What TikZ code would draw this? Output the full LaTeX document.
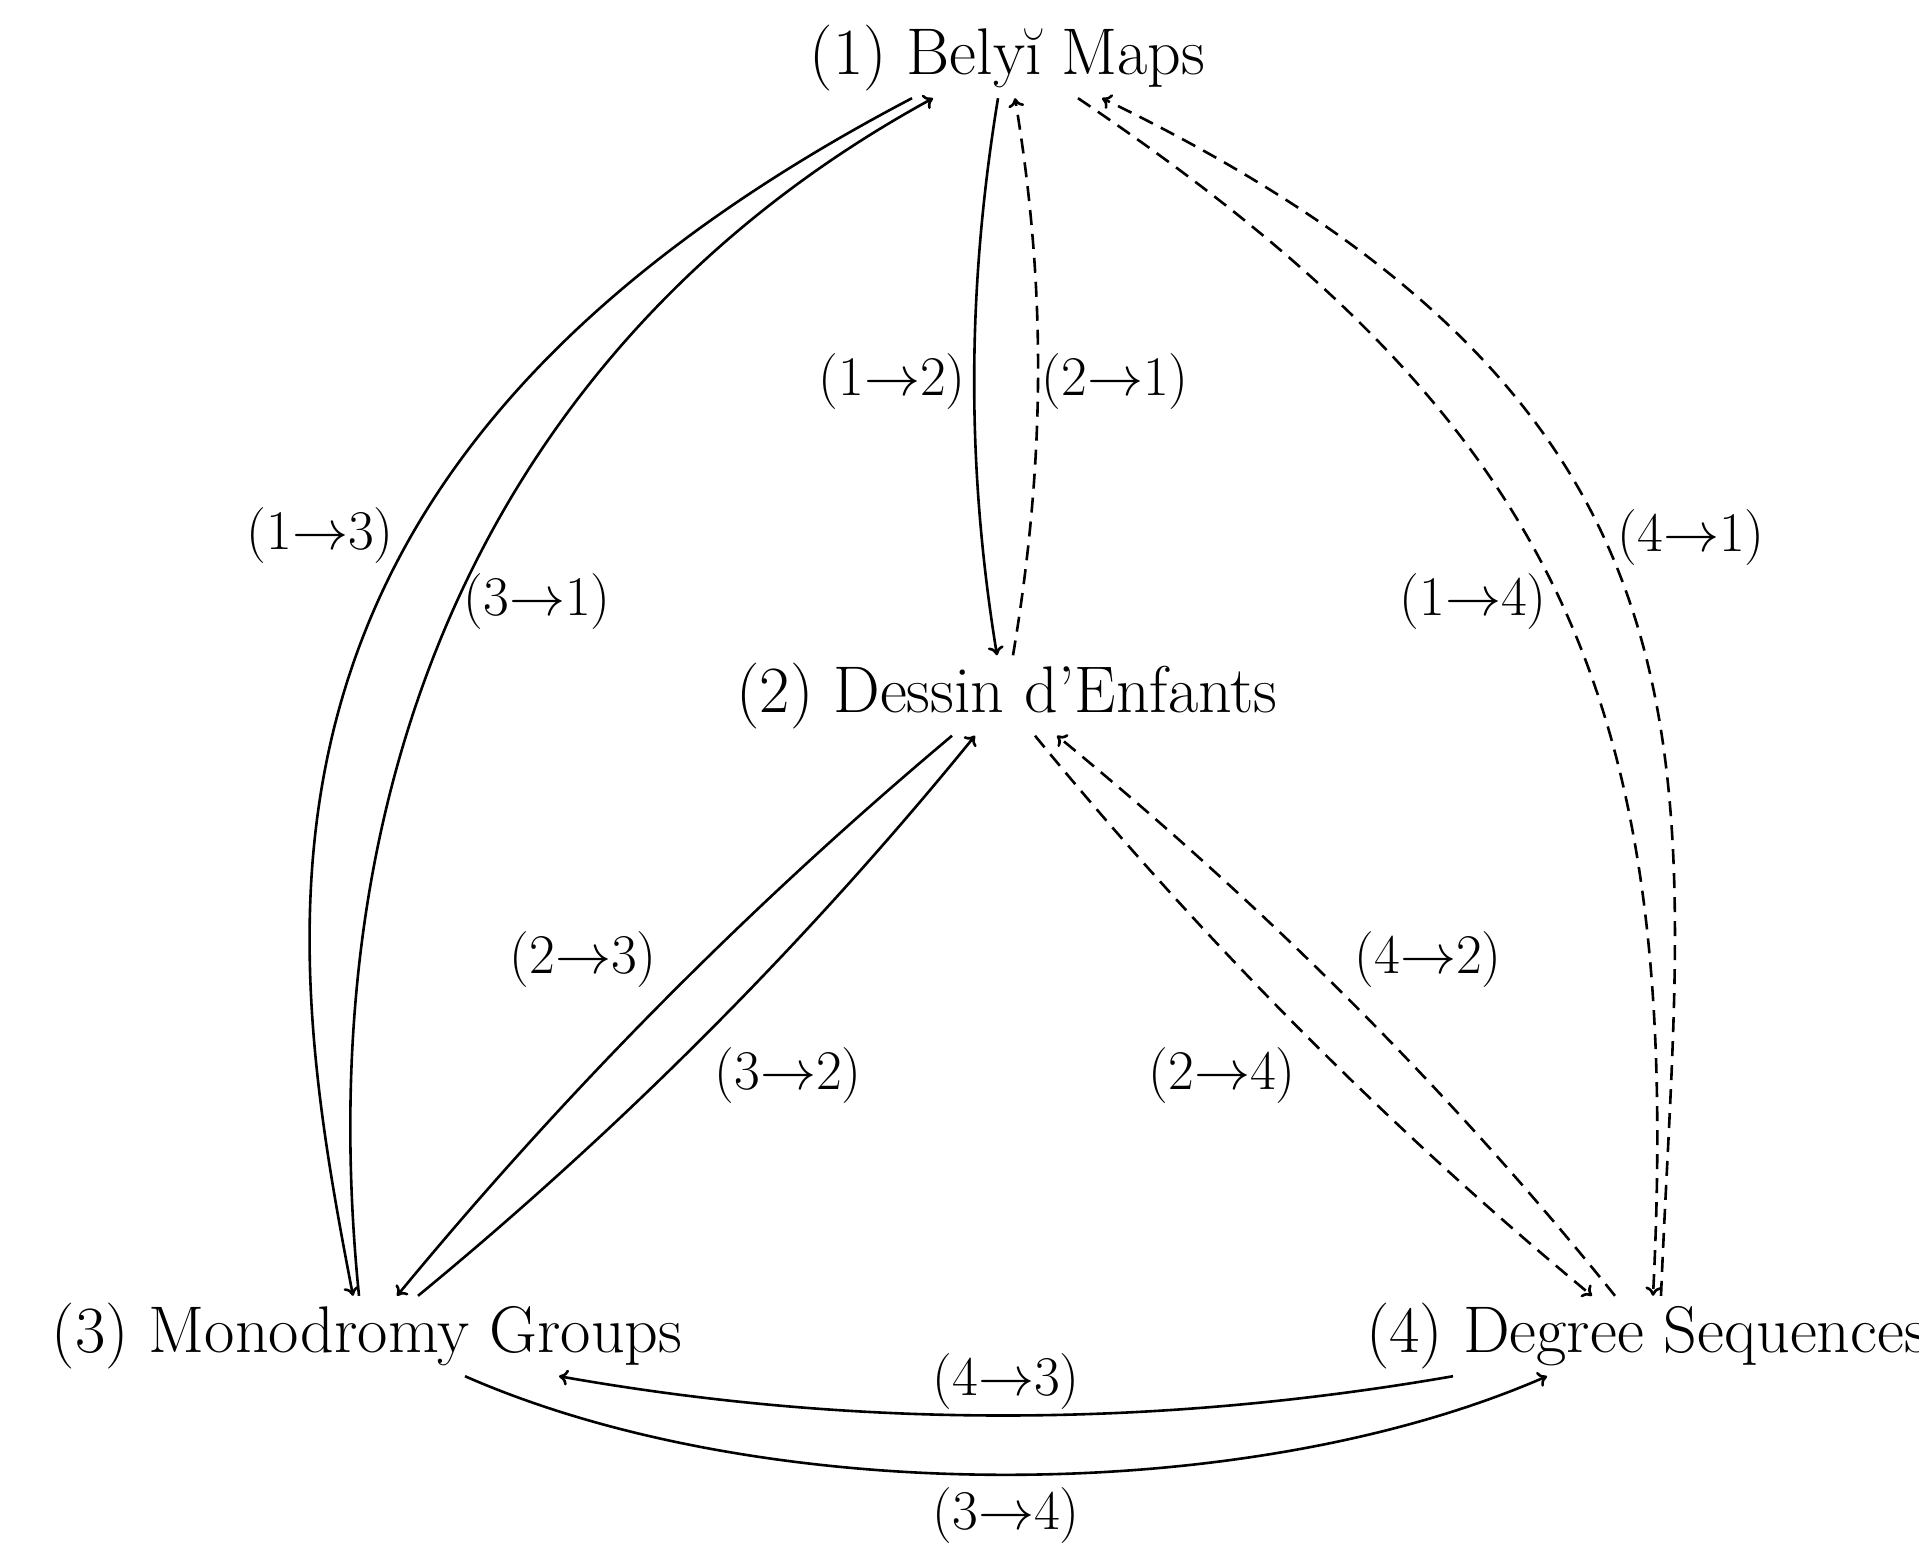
\RequirePackage{fix-cm}
\documentclass[tikz,border=0pt]{standalone}
\usetikzlibrary{arrows.meta}
\newcommand{\nodefont}{\fontsize{66}{72}\selectfont}
\newcommand{\lblfont}{\fontsize{56}{62}\selectfont}
\newcommand{\ar}{$\rightarrow$}
\tikzset{
  box/.style={font=\nodefont, inner sep=0pt, minimum height=80pt, text height=49.5pt, text depth=16.5pt},
  lbl/.style={font=\lblfont, inner sep=0pt, text height=42pt, text depth=14pt},
  conn/.style={line width=2.6pt, -{Computer Modern Rightarrow[length=9pt,width=16pt]}},
  dconn/.style={conn, dash pattern=on 15pt off 9pt},
}
\begin{document}
\begin{tikzpicture}[x=1pt,y=-1pt]
\useasboundingbox (0,0) rectangle (1919,1543);
% nodes
\node[box] (n1) at (1007.5,58) {(1) Belyĭ Maps};
\node[box] (n2) at (1007,695.5) {(2) Dessin d’Enfants};
\node[box] (n3) at (367,1336) {(3) Monodromy Groups};
\node[box] (n4) at (1647,1336) {(4) Degree Sequences};
% 1 <-> 2
\draw[conn] ([xshift=-9.5pt]n1.south) .. controls (967,288) and (966,465) .. ([xshift=-10pt]n2.north);
\draw[dconn] ([xshift=6pt]n2.north) .. controls (1045,465) and (1047,290) .. ([xshift=7.5pt]n1.south);
% 1 <-> 3
\draw[conn] ([xshift=-95.5pt]n1.south) .. controls (210,466) and (282,928) .. ([xshift=-14pt]n3.north);
\draw[conn] ([xshift=-8pt]n3.north) .. controls (301,719) and (538,314) .. ([xshift=-74.5pt]n1.south);
% 1 <-> 4
\draw[dconn] ([xshift=70.5pt]n1.south) .. controls (1559,423) and (1683,696) .. ([xshift=6pt]n4.north);
\draw[dconn] ([xshift=14pt]n4.north) .. controls (1682,776) and (1759,416) .. ([xshift=94.5pt]n1.south);
% 2 <-> 3
\draw[conn] ([xshift=-55pt]n2.south) .. controls (749.5,905.7) and (565,1092) .. ([xshift=30pt]n3.north);
\draw[conn] ([xshift=51pt]n3.north) .. controls (622,1128) and (808,941) .. ([xshift=-32pt]n2.south);
% 2 <-> 4
\draw[dconn] ([xshift=28pt]n2.south) .. controls (1203,941) and (1388,1127) .. ([xshift=-55pt]n4.north);
\draw[dconn] ([xshift=-32pt]n4.north) .. controls (1449,1089) and (1263,905) .. ([xshift=50pt]n2.south);
% 3 <-> 4
\draw[conn] ([xshift=-194pt]n4.south) .. controls (1155,1428) and (857,1429) .. ([xshift=192pt]n3.south);
\draw[conn] ([xshift=98pt]n3.south) .. controls (765,1508) and (1247,1507) .. ([xshift=-100pt]n4.south);
% labels
\node[lbl] (l12) at (892,381) {(1\ar2)};
\node[lbl] (l21) at (1115,381) {(2\ar1)};
\node[lbl] (l13) at (320,535) {(1\ar3)};
\node[lbl] (l31) at (537,601) {(3\ar1)};
\node[lbl] (l14) at (1473,601) {(1\ar4)};
\node[lbl] (l41) at (1691,537) {(4\ar1)};
\node[lbl] (l23) at (583,959) {(2\ar3)};
\node[lbl] (l32) at (788,1075) {(3\ar2)};
\node[lbl] (l24) at (1222,1075) {(2\ar4)};
\node[lbl] (l42) at (1428,959) {(4\ar2)};
\node[lbl] (l43) at (1006,1381) {(4\ar3)};
\node[lbl] (l34) at (1006,1515) {(3\ar4)};
\end{tikzpicture}
\end{document}
